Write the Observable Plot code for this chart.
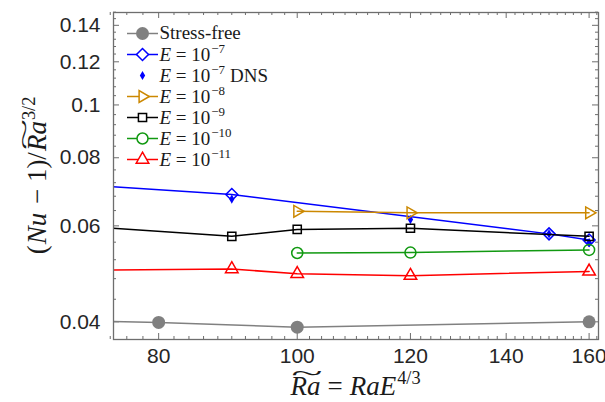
<!DOCTYPE html>
<html><head><meta charset="utf-8">
<script src="https://cdn.jsdelivr.net/npm/d3@7"></script>
<script src="https://cdn.jsdelivr.net/npm/@observablehq/plot@0.6"></script>
<style>body{margin:0;background:#fff} svg{display:block} .serif, .serif text{font-family:"Liberation Serif","DejaVu Serif",serif !important}</style>
</head><body><div id="chart"></div>
<script>
// ---- data ----
const sfRa   = [70, 80, 100, 160];
const sfVal  = [0.0402, 0.0399, 0.0391, 0.0400];
const e7Ra   = [70, 90, 150, 160];
const e7Val  = [0.0715, 0.0685, 0.0580, 0.0565];
const dnsRa  = [90, 120, 150, 160];
const dnsVal = [0.0672, 0.0616, 0.0580, 0.0559];
const e8Ra   = [100, 120, 160];
const e8Val  = [0.0638, 0.0634, 0.0634];
const e9Ra   = [70, 90, 100, 120, 160];
const e9Val  = [0.0600, 0.0574, 0.0591, 0.0594, 0.0574];
const e10Ra  = [100, 120, 160];
const e10Val = [0.0535, 0.0536, 0.0542];
const e11Ra  = [70, 90, 100, 120, 160];
const e11Val = [0.0497, 0.0500, 0.0490, 0.0486, 0.0495];

const xTicks = [80, 100, 120, 140, 160];
const yTicks = [0.04, 0.06, 0.08, 0.1, 0.12, 0.14];
const xDomain = [74.39, 162.44];
const yDomain = [0.03712, 0.14779];

// ---- layout ----
const W = 605, H = 402, mL = 113, mR = 7, mT = 12, mB = 63;
const FW = W - mL - mR, FH = H - mT - mB;
const AX = "#6e6e6e";

const rows = (ra, val) => ra.map((x, i) => ({x, y: val[i]}));
const inside = d => d.x >= xDomain[0] && d.x <= xDomain[1];

const xMinor = d3.range(74, 163, 2).filter(v => !xTicks.includes(v));
const yMinor = d3.range(10, 38).map(i => +(i * 0.004).toFixed(3)).filter(v => !yTicks.some(t => Math.abs(t - v) < 1e-9));

const series = [
  {ra: sfRa,  val: sfVal,  color: "#808080", symbol: "circle",    r: 6.5, fill: true},
  {ra: e7Ra,  val: e7Val,  color: "#0000ff", symbol: "diamond2",  r: 5.4},
  {ra: dnsRa, val: dnsVal, color: "#0000ff", symbol: "diamond",   r: 2.8, fill: true, noLine: true},
  {ra: e8Ra,  val: e8Val,  color: "#cc8800", symbol: "triangle2", r: 5.6, rotate: 90},
  {ra: e9Ra,  val: e9Val,  color: "#000000", symbol: "square2",   r: 5.2},
  {ra: e10Ra, val: e10Val, color: "#119911", symbol: "circle",    r: 5.5},
  {ra: e11Ra, val: e11Val, color: "#ff0000", symbol: "triangle2", r: 6.0}
];

const marks = [];
const tk = (vals, len) => [
  Plot.tickX(vals, {x: d => d, insetTop: FH - len, stroke: AX}),
  Plot.tickX(vals, {x: d => d, insetBottom: FH - len, stroke: AX}),
];
const tky = (vals, len) => [
  Plot.tickY(vals, {y: d => d, insetRight: FW - len, stroke: AX}),
  Plot.tickY(vals, {y: d => d, insetLeft: FW - len, stroke: AX}),
];
marks.push(...tk(xTicks, 6), ...tk(xMinor, 3), ...tky(yTicks, 6), ...tky(yMinor, 3));

for (const s of series) {
  const data = rows(s.ra, s.val);
  if (!s.noLine) marks.push(Plot.line(data, {x: "x", y: "y", stroke: s.color, strokeWidth: 1.5, clip: true}));
  marks.push(Plot.dot(data.filter(inside), {
    x: "x", y: "y", symbol: s.symbol, r: s.r,
    stroke: s.fill ? "none" : s.color, fill: s.fill ? s.color : "none",
    strokeWidth: 1.5, rotate: s.rotate || 0
  }));
}
marks.push(Plot.frame({stroke: AX, strokeWidth: 1.3}));
marks.push(Plot.text(xTicks, {x: d => d, frameAnchor: "bottom", dy: 23, text: d => String(d),
  fontSize: 21, fill: "#262626", textAnchor: "middle"}));
marks.push(Plot.text(yTicks, {y: d => d, frameAnchor: "left", dx: -13, text: d => String(d),
  fontSize: 21, fill: "#262626", textAnchor: "end"}));

const chart = Plot.plot({
  width: W, height: H, marginLeft: mL, marginRight: mR, marginTop: mT, marginBottom: mB,
  x: {type: "log", domain: xDomain, axis: null},
  y: {type: "log", domain: yDomain, axis: null},
  style: {fontFamily: "'Liberation Sans', Arial, sans-serif", background: "white", overflow: "visible"},
  marks
});
document.getElementById("chart").appendChild(chart);

// ---- rich text (math-like labels) ----
const svg = d3.select(chart);
function rich(g, pieces, size) {
  g.attr("text-anchor", "start").attr("class", "serif");
  let x = 0;
  for (const p of pieces) {
    const fs = p.sup ? size * 0.68 : size;
    const t = g.append("text").attr("x", x).attr("y", p.sup ? -size * 0.4 : 0)
      .attr("text-anchor", "start")
      .style("font-size", fs + "px").style("fill", "#1a1a1a")
      .style("font-style", p.italic ? "italic" : "normal")
      .style("white-space", "pre").text(p.t);
    const w = t.node().getComputedTextLength();
    if (p.tilde) {
      const ts = size * 0.6;
      const tt = g.append("text").style("font-size", ts + "px").style("fill", "#1a1a1a").text("~");
      const tw = tt.node().getComputedTextLength();
      tt.attr("text-anchor", "middle")
        .attr("transform", `translate(${x + w / 2 + size * 0.06},${-size * 0.55}) scale(${(w * 1.05) / tw},1.3)`);
    }
    x += w + (p.gap || 0);
  }
  return x;
}

// x label
{
  const g = svg.append("g").attr("transform", `translate(${mL + FW / 2},395)`);
  const inner = g.append("g");
  const w = rich(inner, [
    {t: "Ra", italic: true, tilde: true, gap: 7},
    {t: "=", gap: 7},
    {t: "RaE", italic: true, gap: 1},
    {t: "4/3", sup: true}
  ], 27);
  inner.attr("transform", `translate(${-w / 2},0)`);
}
// y label
{
  const g = svg.append("g").attr("transform", `translate(46,${mT + FH / 2}) rotate(-90)`);
  const inner = g.append("g");
  const w = rich(inner, [
    {t: "(", gap: 1},
    {t: "Nu", italic: true, gap: 2},
    {t: " − 1)/", gap: 1},
    {t: "Ra", italic: true, tilde: true, gap: 1},
    {t: "3/2", sup: true}
  ], 27);
  inner.attr("transform", `translate(${-w / 2},0)`);
}

// ---- legend ----
const legendLabels = [
  [{t: "Stress-free"}],
  [{t: "E", italic: true}, {t: " = 10", gap: 1}, {t: "−7", sup: true}],
  [{t: "E", italic: true}, {t: " = 10", gap: 1}, {t: "−7", sup: true, gap: 5}, {t: "DNS"}],
  [{t: "E", italic: true}, {t: " = 10", gap: 1}, {t: "−8", sup: true}],
  [{t: "E", italic: true}, {t: " = 10", gap: 1}, {t: "−9", sup: true}],
  [{t: "E", italic: true}, {t: " = 10", gap: 1}, {t: "−10", sup: true}],
  [{t: "E", italic: true}, {t: " = 10", gap: 1}, {t: "−11", sup: true}]
];
const symMap = {circle: d3.symbolCircle, diamond2: d3.symbolDiamond2, diamond: d3.symbolDiamond, triangle2: d3.symbolTriangle2, square2: d3.symbolSquare2};
const leg = svg.append("g");
series.forEach((s, i) => {
  const cy = 33.5 + i * 21;
  const row = leg.append("g").attr("transform", `translate(0,${cy})`);
  if (!s.noLine) row.append("line").attr("x1", 127).attr("x2", 158).attr("y1", 0).attr("y2", 0)
    .attr("stroke", s.color).attr("stroke-width", 1.5);
  row.append("path")
    .attr("d", d3.symbol(symMap[s.symbol], Math.PI * s.r * s.r)())
    .attr("transform", `translate(142.5,0) rotate(${s.rotate || 0})`)
    .attr("fill", s.fill ? s.color : "white").attr("stroke", s.fill ? "none" : s.color).attr("stroke-width", 1.5);
  const tg = row.append("g").attr("transform", `translate(159.5,${i === 0 ? 5 : 6})`);
  rich(tg, legendLabels[i], 19);
});
</script></body></html>
